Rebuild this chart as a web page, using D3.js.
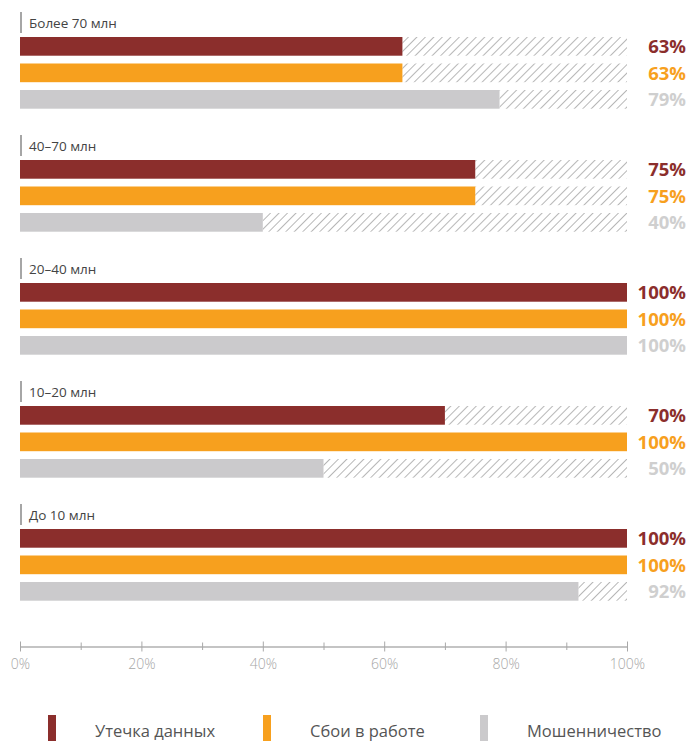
<!DOCTYPE html>
<html>
<head>
<meta charset="utf-8">
<script src="https://cdn.jsdelivr.net/npm/d3@7"></script>
<style>
body { margin: 0; background: #fff; }
svg { font-family: "Open Sans", "Noto Sans", sans-serif; }
</style>
</head>
<body>
<div id="chart"></div>
<script>
var groups = ["Более 70 млн", "40–70 млн", "20–40 млн", "10–20 млн", "До 10 млн"];
var series = ["Утечка данных", "Сбои в работе", "Мошенничество"];
var leak = [63, 75, 100, 70, 100];
var failures = [63, 75, 100, 100, 100];
var fraud = [79, 40, 100, 50, 92];
var ticks = [0, 20, 40, 60, 80, 100];
var colors = ["#8b2e2c", "#f7a01e", "#cbcacc"];
var labelColors = ["#8b2e2c", "#f7a01e", "#cfcfcf"];

var width = 689, height = 741;
var svg = d3.select("#chart").append("svg")
  .attr("width", width).attr("height", height);

var defs = svg.append("defs");
var pat = defs.append("pattern")
  .attr("id", "hatch")
  .attr("patternUnits", "userSpaceOnUse")
  .attr("width", 6).attr("height", 6)
  .attr("patternTransform", "rotate(45)");
pat.append("line")
  .attr("x1", 0).attr("y1", 0).attr("x2", 0).attr("y2", 6)
  .attr("stroke", "#aaa").attr("stroke-width", 1.7);

var x = d3.scaleLinear().domain([0, 100]).range([20, 627]);

var groupY = d3.scaleBand().domain(groups).range([12, 627]).paddingInner(0).paddingOuter(0);
var barY = d3.scaleBand().domain(d3.range(3)).range([25, 96.7]).paddingInner(0.294).paddingOuter(0);

var values = [leak, failures, fraud];

groups.forEach(function(g, gi) {
  var gg = svg.append("g").attr("transform", "translate(0," + groupY(g) + ")");
  gg.append("line")
    .attr("x1", 21).attr("x2", 21).attr("y1", 0).attr("y2", 21)
    .attr("stroke", "#888").attr("stroke-width", 1.5);
  gg.append("text")
    .attr("x", 29).attr("y", 15.5)
    .attr("font-size", 13.5).attr("fill", "#444")
    .text(g);
  values.forEach(function(arr, si) {
    var v = arr[gi];
    var y = barY(si), h = barY.bandwidth();
    if (v < 100) {
      gg.append("rect")
        .attr("x", x(v)).attr("y", y)
        .attr("width", x(100) - x(v)).attr("height", h)
        .attr("fill", "url(#hatch)");
    }
    gg.append("rect")
      .attr("x", x(0)).attr("y", y)
      .attr("width", x(v) - x(0)).attr("height", h)
      .attr("fill", colors[si]);
    gg.append("text")
      .attr("x", 686).attr("y", y + h / 2)
      .attr("dy", "0.36em")
      .attr("text-anchor", "end")
      .attr("font-size", 18.5).attr("font-weight", "bold")
      .attr("fill", labelColors[si])
      .text(v + "%");
  });
});

// axis
var axis = d3.axisBottom(x)
  .tickValues(d3.range(0, 101, 10))
  .tickSize(0)
  .tickFormat(function(d) { return ticks.indexOf(d) >= 0 ? d + "%" : ""; });
var ag = svg.append("g").attr("transform", "translate(0,646.5)").call(axis);
ag.select(".domain").attr("stroke", "#b0b0b0").attr("stroke-width", 1.5);
ag.selectAll(".tick line")
  .attr("y1", function(d) { return d % 20 === 0 ? -5 : -4; })
  .attr("y2", function(d) { return d % 20 === 0 ? 5 : 3.5; })
  .attr("stroke", "#a8a8a8").attr("stroke-width", 1);
ag.selectAll(".tick text")
  .attr("y", 22.5).attr("dy", 0)
  .attr("font-size", 14).attr("fill", "#a6a6a6")
  .attr("font-family", "'Open Sans', sans-serif")
  .attr("font-weight", 300);

// legend
var legendX = [48, 263, 480];
var lg = svg.append("g");
series.forEach(function(s, i) {
  lg.append("rect")
    .attr("x", legendX[i]).attr("y", 715)
    .attr("width", 8).attr("height", 26)
    .attr("fill", colors[i]);
  lg.append("text")
    .attr("x", legendX[i] + 47).attr("y", 737)
    .attr("font-size", 16.5).attr("fill", "#555")
    .text(s);
});
</script>
</body>
</html>
